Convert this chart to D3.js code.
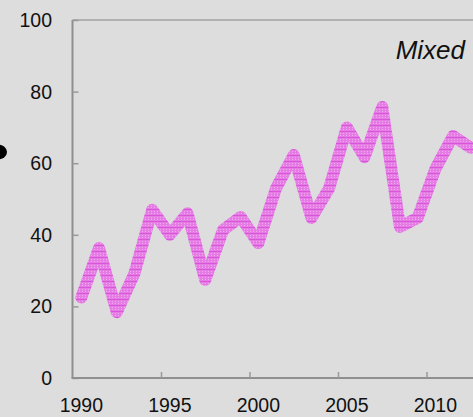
<!DOCTYPE html>
<html>
<head>
<meta charset="utf-8">
<script src="https://cdn.jsdelivr.net/npm/d3@7"></script>
<style>
  html, body { margin: 0; padding: 0; background: #dddddd; }
  svg { display: block; }
  text { font-family: "Liberation Sans", Arial, sans-serif; fill: #111; }
</style>
</head>
<body>
<div class="canvas"></div>
<script>
const years = [1990, 1991, 1992, 1993, 1994, 1995, 1996, 1997, 1998, 1999, 2000,
  2001, 2002, 2003, 2004, 2005, 2006, 2007, 2008, 2009, 2010, 2011, 2012];
const values = [22.5, 36.3, 18.4, 29.2, 47, 40, 46, 27.4, 41.3, 45, 37.7,
  53, 62.3, 44.7, 53, 70, 61.7, 75.7, 42.2, 44.7, 58.4, 67.6, 64.3];
const yTicks = [0, 20, 40, 60, 80, 100];
const xTicks = [1990, 1995, 2000, 2005, 2010];
const seriesLabel = 'Mixed';

const width = 473, height = 417;

const svg = d3.select('.canvas')
  .append('svg')
  .attr('width', width)
  .attr('height', height);

svg.append('rect')
  .attr('width', width)
  .attr('height', height)
  .attr('fill', '#dddddd');

// textured stroke for the line
const defs = svg.append('defs');
const pat = defs.append('pattern')
  .attr('id', 'tex')
  .attr('patternUnits', 'userSpaceOnUse')
  .attr('width', 3)
  .attr('height', 6);
pat.append('rect').attr('width', 3).attr('height', 6).attr('fill', '#e47ce4');
pat.append('rect').attr('x', 1).attr('y', 1).attr('width', 1).attr('height', 1).attr('fill', '#f0a6f0');
pat.append('rect').attr('x', 1).attr('y', 3).attr('width', 1).attr('height', 1).attr('fill', '#f0a6f0');
pat.append('rect').attr('x', 0).attr('y', 5).attr('width', 3).attr('height', 1).attr('fill', '#d955d9');

const x = d3.scaleLinear()
  .domain([1990, 2015])
  .range([72.5, 515]);

const y = d3.scaleLinear()
  .domain([0, 100])
  .range([378, 20]);

const data = years.map((yr, i) => ({ year: yr, value: values[i] }));

// frame lines
svg.append('line')
  .attr('x1', x(1990)).attr('x2', width)
  .attr('y1', y(100)).attr('y2', y(100))
  .attr('stroke', '#a2a2a2').attr('stroke-width', 1.5);

// y axis
const yAxis = svg.append('g')
  .attr('transform', `translate(${x(1990)},0)`)
  .call(d3.axisRight(y).tickValues(yTicks).tickSize(6).tickFormat(''));
yAxis.select('.domain').attr('stroke', '#8f8f8f').attr('stroke-width', 2)
  .attr('d', `M0,${y(0)}V${y(100)}`);
yAxis.selectAll('.tick line').attr('stroke', '#999').attr('stroke-width', 1.5);

svg.selectAll('.ylab')
  .data(yTicks)
  .enter()
  .append('text')
  .attr('class', 'ylab')
  .attr('x', 52)
  .attr('y', d => y(d))
  .attr('dy', '0.36em')
  .attr('text-anchor', 'end')
  .style('font-size', '19.5px')
  .text(d => d);

// x axis
const xAxis = svg.append('g')
  .attr('transform', `translate(0,${y(0)})`)
  .call(d3.axisTop(x).tickValues(xTicks).tickSize(6).tickFormat(''));
xAxis.select('.domain').attr('stroke', '#8f8f8f').attr('stroke-width', 2)
  .attr('d', `M${x(1990) - 1},0H${width}`);
xAxis.selectAll('.tick line').attr('stroke', '#999').attr('stroke-width', 1.5);
xAxis.selectAll('.tick').filter(d => d === 1990).remove();

svg.selectAll('.xlab')
  .data(xTicks)
  .enter()
  .append('text')
  .attr('class', 'xlab')
  .attr('x', d => x(d + 0.5))
  .attr('y', 412)
  .attr('text-anchor', 'middle')
  .style('font-size', '19.5px')
  .text(d => d);

// the series line, points sit at mid-year
const line = d3.line()
  .x(d => x(d.year + 0.5))
  .y(d => y(d.value));

svg.append('path')
  .datum(data)
  .attr('d', line)
  .attr('fill', 'none')
  .attr('stroke', 'url(#tex)')
  .attr('stroke-width', 12)
  .attr('stroke-linejoin', 'round')
  .attr('stroke-linecap', 'round');

svg.append('text')
  .attr('x', 465)
  .attr('y', 59)
  .attr('text-anchor', 'end')
  .style('font-size', '26px')
  .style('font-style', 'italic')
  .text(seriesLabel);

// clipped dark shape at the left edge
svg.append('ellipse')
  .attr('cx', -2).attr('cy', 152)
  .attr('rx', 9).attr('ry', 7.5)
  .attr('fill', '#000');
</script>
</body>
</html>
